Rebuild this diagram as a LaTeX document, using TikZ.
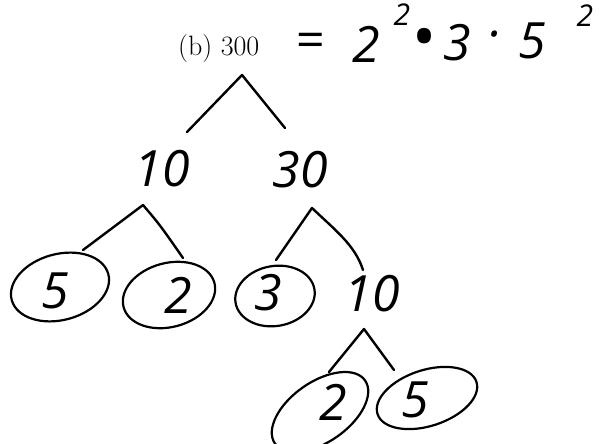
\documentclass[tikz,border=0pt]{standalone}
\usepackage{fontspec}
\newfontfamily\hand{Open Sans}
\usetikzlibrary{shapes.geometric}
\begin{document}
\begin{tikzpicture}[x=1pt,y=-1pt,
  hw/.style={font=\hand\itshape\fontsize{50}{60}\selectfont, inner sep=0pt},
  hwsup/.style={font=\hand\itshape\fontsize{30}{36}\selectfont, inner sep=0pt},
  printed/.style={font=\fontsize{28}{34}\selectfont, inner sep=0pt},
  ring/.style={draw, ellipse, inner sep=0pt, line width=2.2pt},
  stroke/.style={line width=2.4pt, line cap=round, line join=round}]
\useasboundingbox[fill=white] (0,0) rectangle (605,444);

% top line
\node[printed, anchor=base west] (n300) at (178,56) {(b) 300};
\node[hw] (eq) at (310,45) {=};
\node[hw] (e2) at (366,44) {2};
\node[hwsup] (e2s) at (402,15) {2};
\node[hw, font=\hand\fontsize{64}{70}\selectfont] (edot1) at (425,44) {•};
\node[hw] (e3) at (457,43) {3};
\node[hw] (edot2) at (494,41) {·};
\node[hw] (e5) at (532,41) {5};
\node[hwsup] (e5s) at (585,16) {2};

% level 1
\node[hw] (n10) at (162,169) {10};
\node[hw] (n30) at (300,170) {30};

% level 2
\node[ring, rotate=15, minimum width=100, minimum height=66] (c5) at (60,287) {};
\node[hw] (d5) at (55,291) {5};
\node[ring, rotate=15, minimum width=94, minimum height=64] (c2) at (169,295) {};
\node[hw] (d2) at (178,295) {2};
\node[ring, rotate=10, minimum width=80, minimum height=60] (c3) at (275,296) {};
\node[hw] (d3) at (268,293) {3};
\node[hw] (n10b) at (372,294) {10};

% level 3
\node[ring, rotate=35, minimum width=110, minimum height=60] (c2b) at (320,412) {};
\node[hw] (d2b) at (333,402) {2};
\node[ring, rotate=18, minimum width=104, minimum height=56] (c5b) at (427,398) {};
\node[hw] (d5b) at (415,400) {5};

% branch points
\coordinate (k1) at (242,75);  \coordinate (k1l) at (187,132); \coordinate (k1r) at (285,128);
\coordinate (k2) at (143,205); \coordinate (k2l) at (83,250);  \coordinate (k2r) at (183,258);
\coordinate (k3) at (312,208); \coordinate (k3l) at (276,260); \coordinate (k3r) at (363,270);
\coordinate (k4) at (364,329); \coordinate (k4l) at (329,372); \coordinate (k4r) at (394,370);

\draw[stroke] (k1l) -- (k1) -- (k1r);
\draw[stroke] (k2l) -- (k2) .. controls (160,225) .. (k2r);
\draw[stroke] (k3l) -- (k3) .. controls (335,230) and (355,245) .. (k3r);
\draw[stroke] (k4l) -- (k4) -- (k4r);
\end{tikzpicture}
\end{document}
